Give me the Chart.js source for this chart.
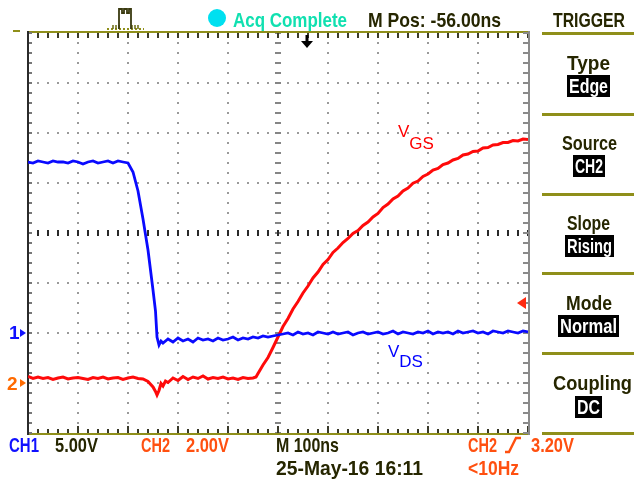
<!DOCTYPE html>
<html><head><meta charset="utf-8">
<script src="https://cdn.jsdelivr.net/npm/chart.js@4.4.1/dist/chart.umd.min.js"></script>
<style>
html,body{margin:0;padding:0;background:#fff;}
#wrap{position:relative;width:641px;height:486px;overflow:hidden;background:#fff;}
#c{position:absolute;left:0;top:0;}
.t{position:absolute;font-family:"Liberation Sans",Arial,sans-serif;font-weight:bold;font-size:21px;line-height:21px;white-space:nowrap;color:#262600;transform-origin:0 0;}
.cy{color:#10e0b0}
.bl{color:#1010ff}
.or{color:#ff5010}
.box{position:absolute;height:22px;background:#000;}
.box .t{color:#fff;font-size:20px;line-height:22px;top:0;}
.sep{position:absolute;left:542px;width:92px;height:3px;background:#8f8f1a;}
.lab{position:absolute;font-family:"Liberation Sans",Arial,sans-serif;font-size:17px;line-height:17px;white-space:nowrap;}
.dig{position:absolute;font-family:"Liberation Sans",Arial,sans-serif;font-weight:bold;font-size:19px;line-height:19px;}
</style></head>
<body>
<div id="wrap">
<canvas id="c" width="641" height="486" style="width:641px;height:486px"></canvas>

<!-- top bar -->
<div style="position:absolute;left:13px;top:30px;width:7px;height:2px;background:#8f8f1a"></div>
<svg style="position:absolute;left:104px;top:5px" width="42" height="28">
  <path d="M3 24 H40" stroke="#8f8f1a" stroke-width="2" stroke-dasharray="2 2" fill="none"/>
  <path d="M9 24 V20 M12 24 V20 M15 24 V20 M28 24 V20 M31 24 V20 M34 24 V20" stroke="#6b6b10" stroke-width="1.5" fill="none"/>
  <path d="M15 24 V4 H18 V8 H20 V4 H23 V8 H25 V4 H27 V24" stroke="#3a3a10" stroke-width="1.8" fill="none"/>
</svg>
<div style="position:absolute;left:208px;top:9px;width:18px;height:18px;border-radius:50%;background:#00e0f0"></div>
<div class="t cy" data-l="233" data-y="9" data-w="114">Acq Complete</div>
<div class="t" data-l="368" data-y="9" data-w="133">M Pos: -56.00ns</div>

<!-- trigger panel -->
<div class="t" data-l="553" data-y="9" data-w="72">TRIGGER</div>
<div class="sep" style="top:32px"></div>
<div class="t" data-l="567" data-y="52" data-w="43">Type</div>
<div class="box" style="left:567px;top:75px;width:43px"><div class="t" data-l="2" data-y="0" data-w="39">Edge</div></div>
<div class="sep" style="top:113px"></div>
<div class="t" data-l="562" data-y="132" data-w="55">Source</div>
<div class="box" style="left:573px;top:155px;width:32px"><div class="t" data-l="2" data-y="0" data-w="28">CH2</div></div>
<div class="sep" style="top:193px"></div>
<div class="t" data-l="567" data-y="212" data-w="43">Slope</div>
<div class="box" style="left:565px;top:235px;width:49px"><div class="t" data-l="2" data-y="0" data-w="45">Rising</div></div>
<div class="sep" style="top:272px"></div>
<div class="t" data-l="566" data-y="292" data-w="46">Mode</div>
<div class="box" style="left:558px;top:315px;width:61px"><div class="t" data-l="2" data-y="0" data-w="57">Normal</div></div>
<div class="sep" style="top:352px"></div>
<div class="t" data-l="553" data-y="372" data-w="79">Coupling</div>
<div class="box" style="left:575px;top:396px;width:27px"><div class="t" data-l="2" data-y="0" data-w="23">DC</div></div>
<div class="sep" style="top:432px"></div>

<!-- channel ground markers digits -->
<div class="dig" style="left:9px;top:323px;color:#1010ff">1</div>
<div class="dig" style="left:7px;top:374px;color:#ff6a00">2</div>

<!-- trace labels -->
<div class="lab" style="left:398px;top:123px;color:#ff0000">V<span style="position:relative;top:12px">GS</span></div>
<div class="lab" style="left:388px;top:343px;color:#0000ff">V<span style="position:relative;top:10px">DS</span></div>

<!-- bottom status -->
<div class="t bl" data-l="9" data-y="434" data-w="30">CH1</div>
<div class="t" data-l="55" data-y="434" data-w="43">5.00V</div>
<div class="t or" data-l="141" data-y="434" data-w="29">CH2</div>
<div class="t or" data-l="186" data-y="434" data-w="43">2.00V</div>
<div class="t" data-l="276" data-y="434" data-w="63">M 100ns</div>
<div class="t or" data-l="468" data-y="434" data-w="29">CH2</div>
<svg style="position:absolute;left:502px;top:435px" width="22" height="20">
  <path d="M3 17 H7 L14 3 H19" stroke="#ff5010" stroke-width="2.4" fill="none"/>
</svg>
<div class="t or" data-l="531" data-y="434" data-w="43">3.20V</div>
<div class="t" data-l="276" data-y="457" data-w="147">25-May-16 16:11</div>
<div class="t or" data-l="468" data-y="457" data-w="51">&lt;10Hz</div>
</div>

<script>
// ---- data ----
// CH1 (V_DS), 5.00 V/div
const ch1TimeNs = [0,10,20,30,40,50,60,70,80,90,100,110,120,130,140,150,160,170,180,190,200,
  210,220,230,240,250,255,258,262,266,270,280,290,300,310,320,330,340,350,360,370,380,390,400,
  410,420,430,440,450,460,470,480,490,500,510,520,530,540,550,560,570,580,590,600,610,620,630,
  640,650,660,670,680,690,700,710,720,730,740,750,760,770,780,790,800,810,820,830,840,850,860,
  870,880,890,900,910,920,930,940,950,960,970,980,990,1000];
const ch1Volts = [17.1,17.0,17.2,17.1,17.0,17.2,17.1,17.1,17.0,17.2,17.1,16.9,17.1,17.2,17.0,17.1,17.2,17.0,17.2,17.1,17.0,
  16.1,14.2,11.4,8.3,4.3,2.2,-0.4,-1.2,-0.8,-1.0,-0.6,-0.9,-0.5,-0.8,-0.6,-0.9,-0.5,-0.7,-0.6,-0.8,-0.5,-0.7,-0.6,
  -0.4,-0.7,-0.5,-0.6,-0.4,-0.5,-0.3,-0.4,-0.3,-0.2,-0.1,0.0,-0.2,0.1,-0.1,0.0,-0.2,0.1,0.0,-0.1,0.1,-0.1,0.0,
  0.1,-0.2,0.0,0.1,-0.1,0.0,0.1,-0.1,0.0,0.2,-0.1,0.1,0.0,-0.1,0.1,0.0,0.2,-0.1,0.1,0.0,0.1,-0.1,0.2,
  0.0,0.1,0.2,0.0,0.1,-0.1,0.2,0.1,0.0,0.2,0.1,0.0,0.2,0.1];
// CH2 (V_GS), 2.00 V/div
const ch2TimeNs = [0,10,20,30,40,50,60,70,80,90,100,110,120,130,140,150,160,170,180,190,200,
  210,220,230,240,250,255,258,262,266,270,275,280,290,300,310,320,330,340,350,360,370,380,390,400,
  410,420,430,440,450,456,460,470,480,490,500,510,520,530,540,550,560,570,580,590,600,610,620,630,
  640,650,660,670,680,690,700,710,720,730,740,750,760,770,780,790,800,810,820,830,840,850,860,
  870,880,890,900,910,920,930,940,950,960,970,980,990,1000];
const ch2Volts = [0.26,0.18,0.24,0.18,0.22,0.14,0.20,0.24,0.16,0.20,0.22,0.18,0.14,0.22,0.18,0.24,0.16,0.20,0.22,0.14,0.20,
  0.24,0.18,0.16,0.06,-0.16,-0.34,-0.48,-0.30,-0.02,-0.12,0.08,0.02,0.20,0.10,0.26,0.14,0.24,0.18,0.28,0.16,0.22,0.18,0.24,0.16,
  0.20,0.14,0.22,0.18,0.20,0.24,0.38,0.72,1.02,1.42,1.84,2.26,2.58,2.96,3.26,3.60,3.88,4.20,4.44,4.74,4.94,5.22,5.40,5.62,
  5.78,5.98,6.10,6.30,6.44,6.64,6.78,7.02,7.16,7.36,7.48,7.68,7.80,7.99,8.08,8.26,8.36,8.52,8.58,8.74,8.80,8.92,8.98,
  9.12,9.16,9.26,9.28,9.40,9.42,9.52,9.54,9.62,9.62,9.70,9.68,9.76,9.74];

const timeRangeNs = [0, 1000];   // 10 div x 100 ns
const ch1RangeV = [-10, 30];     // 8 div x 5 V, ground 2 div above bottom
const ch2RangeV = [-2, 14];      // 8 div x 2 V, ground 1 div above bottom
const timePerDivNs = 100;
const ch2VoltsPerDiv = 2;
const triggerLevelV = 3.2;
const triggerPosNs = 557;

const toPoints = (xs, ys) => xs.map((x, i) => ({x: x, y: ys[i]}));

// fit the narrow scope-style text to its measured width in the screenshot
function fitTexts() {
  document.querySelectorAll('.t').forEach(el => {
    el.style.left = el.dataset.l + 'px';
    el.style.top = el.dataset.y + 'px';
    el.style.transform = 'none';
    const w = el.getBoundingClientRect().width;
    if (w > 0) el.style.transform = 'scaleX(' + (parseFloat(el.dataset.w) / w) + ')';
  });
}
fitTexts();
if (document.fonts && document.fonts.ready) document.fonts.ready.then(fitTexts);

const scopePlugin = {
  id: 'scope',
  beforeDatasetsDraw(chart) {
    const {ctx, chartArea: a, scales} = chart;
    const x = scales.x, y = scales.y;
    const xs = [], ys = [];
    const tStep = timePerDivNs / 5, vStep = ch2VoltsPerDiv / 5;
    for (let i = 0; i <= 50; i++) xs.push(Math.round(x.getPixelForValue(timeRangeNs[0] + i * tStep)));
    for (let i = 0; i <= 40; i++) ys.push(Math.round(y.getPixelForValue(ch2RangeV[0] + i * vStep)));
    const divX = [], divY = [];
    for (let i = 1; i < 10; i++) divX.push(Math.round(x.getPixelForValue(timeRangeNs[0] + i * timePerDivNs)));
    for (let i = 1; i < 8; i++) divY.push(Math.round(y.getPixelForValue(ch2RangeV[0] + i * ch2VoltsPerDiv)));
    const cx = divX[4], cy = divY[3];
    ctx.save();
    ctx.fillStyle = '#9a9a9a';
    divX.forEach(px => { if (px === cx) return; ys.forEach(py => ctx.fillRect(px - 1, py - 1, 2, 2)); });
    divY.forEach(py => { if (py === cy) return; xs.forEach(px => ctx.fillRect(px - 1, py - 1, 2, 2)); });
    ctx.fillStyle = '#858585';
    ys.forEach(py => ctx.fillRect(cx - 3, py - 1, 6, 2));
    ctx.fillStyle = '#2a2a2a';
    xs.forEach(px => ctx.fillRect(px - 1, cy - 3, 2, 6));
    // borders
    ctx.fillStyle = '#8f8f1a';
    ctx.fillRect(a.left - 1, a.top - 2, a.right - a.left + 3, 2);
    ctx.fillRect(a.left - 1, a.bottom, a.right - a.left + 3, 2);
    ctx.fillStyle = '#3a3a2a';
    xs.forEach(px => ctx.fillRect(px - 1, a.top, 2, 5));
    xs.forEach((px, i) => { const h = (i % 5 === 0) ? 7 : 4; ctx.fillRect(px - 1, a.bottom - h, 2, h); });
    ctx.fillStyle = '#2a2a2a';
    ctx.fillRect(a.left - 1, a.top - 2, 2, a.bottom - a.top + 4);
    ctx.fillStyle = '#777';
    ys.forEach(py => ctx.fillRect(a.left + 1, py - 1, 3, 2));
    ctx.fillStyle = '#8a8a8a';
    ctx.fillRect(a.right, a.top - 2, 2, a.bottom - a.top + 4);
    ys.forEach(py => ctx.fillRect(a.right - 5, py - 1, 5, 2));
    ctx.restore();
  },
  afterDatasetsDraw(chart) {
    const {ctx, chartArea: a, scales} = chart;
    ctx.save();
    const ty = scales.y.getPixelForValue(triggerLevelV);
    ctx.fillStyle = '#ff2a10';
    ctx.beginPath();
    ctx.moveTo(a.right - 11, ty); ctx.lineTo(a.right - 2, ty - 6); ctx.lineTo(a.right - 2, ty + 6); ctx.closePath(); ctx.fill();
    const tx = Math.round(scales.x.getPixelForValue(triggerPosNs));
    ctx.fillStyle = '#000';
    ctx.fillRect(tx - 1.5, a.top + 2, 3, 8);
    ctx.beginPath();
    ctx.moveTo(tx - 6, a.top + 8); ctx.lineTo(tx + 6, a.top + 8); ctx.lineTo(tx, a.top + 15); ctx.closePath(); ctx.fill();
    const g1 = scales.y1.getPixelForValue(0), g2 = scales.y.getPixelForValue(0);
    ctx.fillStyle = '#1010ff';
    ctx.beginPath(); ctx.moveTo(20, g1 - 4); ctx.lineTo(26, g1); ctx.lineTo(20, g1 + 4); ctx.closePath(); ctx.fill();
    ctx.fillStyle = '#ff6a00';
    ctx.beginPath(); ctx.moveTo(20, g2 - 4); ctx.lineTo(26, g2); ctx.lineTo(20, g2 + 4); ctx.closePath(); ctx.fill();
    ctx.restore();
  }
};

new Chart(document.getElementById('c'), {
  type: 'line',
  data: {
    datasets: [
      {label: 'V_DS (CH1)', data: toPoints(ch1TimeNs, ch1Volts), yAxisID: 'y1',
       borderColor: '#0a0aff', borderWidth: 2.8, pointRadius: 0, tension: 0, fill: false},
      {label: 'V_GS (CH2)', data: toPoints(ch2TimeNs, ch2Volts), yAxisID: 'y',
       borderColor: '#ff0a0a', borderWidth: 3, pointRadius: 0, tension: 0, fill: false}
    ]
  },
  options: {
    responsive: false, animation: false, devicePixelRatio: 1,
    layout: {padding: {left: 28, top: 33, right: 113, bottom: 53}},
    plugins: {legend: {display: false}, tooltip: {enabled: false}},
    scales: {
      x: {type: 'linear', min: timeRangeNs[0], max: timeRangeNs[1], display: false},
      y: {type: 'linear', min: ch2RangeV[0], max: ch2RangeV[1], display: false},
      y1: {type: 'linear', min: ch1RangeV[0], max: ch1RangeV[1], display: false}
    }
  },
  plugins: [scopePlugin]
});
</script>
</body></html>
